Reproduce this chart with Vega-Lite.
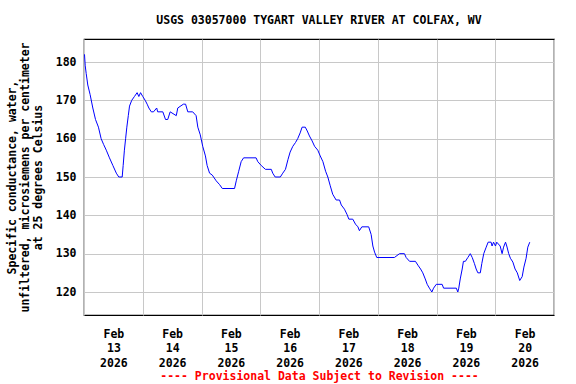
{
  "$schema": "https://vega.github.io/schema/vega-lite/v6.json",
  "width": 470,
  "height": 276,
  "autosize": {"type": "none"},
  "padding": {"left": 84, "top": 39, "right": 22, "bottom": 69},
  "background": "white",
  "config": {"view": {"stroke": "black", "strokeWidth": 1.2}, "font": "DejaVu Sans Mono"},
  "title": {"text": "USGS 03057000 TYGART VALLEY RIVER AT COLFAX, WV", "font": "DejaVu Sans Mono", "fontSize": 11.5, "fontWeight": "bold", "color": "black", "anchor": "middle", "baseline": "alphabetic", "offset": 4},
  "data": {"values": [
    {"time": "2026-02-13T00:12", "value": 182},
    {"time": "2026-02-13T00:30", "value": 179},
    {"time": "2026-02-13T00:54", "value": 177},
    {"time": "2026-02-13T01:33", "value": 174},
    {"time": "2026-02-13T02:30", "value": 171.5},
    {"time": "2026-02-13T03:36", "value": 168},
    {"time": "2026-02-13T04:42", "value": 165},
    {"time": "2026-02-13T05:54", "value": 163},
    {"time": "2026-02-13T07:00", "value": 160},
    {"time": "2026-02-13T08:00", "value": 158.5},
    {"time": "2026-02-13T09:06", "value": 157},
    {"time": "2026-02-13T10:24", "value": 155},
    {"time": "2026-02-13T11:48", "value": 153},
    {"time": "2026-02-13T13:12", "value": 151},
    {"time": "2026-02-13T14:12", "value": 150},
    {"time": "2026-02-13T15:36", "value": 150},
    {"time": "2026-02-13T16:00", "value": 153},
    {"time": "2026-02-13T16:30", "value": 157},
    {"time": "2026-02-13T17:00", "value": 160},
    {"time": "2026-02-13T17:30", "value": 163},
    {"time": "2026-02-13T18:06", "value": 166},
    {"time": "2026-02-13T18:36", "value": 168.5},
    {"time": "2026-02-13T19:30", "value": 170},
    {"time": "2026-02-13T20:36", "value": 171},
    {"time": "2026-02-13T21:42", "value": 172},
    {"time": "2026-02-13T22:24", "value": 171},
    {"time": "2026-02-13T23:06", "value": 172},
    {"time": "2026-02-14T00:00", "value": 171},
    {"time": "2026-02-14T01:00", "value": 170},
    {"time": "2026-02-14T01:48", "value": 169},
    {"time": "2026-02-14T02:30", "value": 168},
    {"time": "2026-02-14T03:30", "value": 167},
    {"time": "2026-02-14T04:24", "value": 167},
    {"time": "2026-02-14T05:42", "value": 168},
    {"time": "2026-02-14T06:06", "value": 167},
    {"time": "2026-02-14T08:12", "value": 167},
    {"time": "2026-02-14T09:18", "value": 165},
    {"time": "2026-02-14T10:12", "value": 165},
    {"time": "2026-02-14T11:12", "value": 167},
    {"time": "2026-02-14T13:42", "value": 166},
    {"time": "2026-02-14T14:18", "value": 168},
    {"time": "2026-02-14T16:36", "value": 169},
    {"time": "2026-02-14T17:30", "value": 169},
    {"time": "2026-02-14T18:24", "value": 167},
    {"time": "2026-02-14T20:24", "value": 167},
    {"time": "2026-02-14T21:48", "value": 166},
    {"time": "2026-02-14T22:30", "value": 163},
    {"time": "2026-02-14T23:30", "value": 161},
    {"time": "2026-02-15T00:30", "value": 158},
    {"time": "2026-02-15T01:36", "value": 155.5},
    {"time": "2026-02-15T02:18", "value": 153},
    {"time": "2026-02-15T03:18", "value": 151},
    {"time": "2026-02-15T04:24", "value": 150.5},
    {"time": "2026-02-15T06:00", "value": 149},
    {"time": "2026-02-15T07:24", "value": 148},
    {"time": "2026-02-15T08:30", "value": 147},
    {"time": "2026-02-15T13:30", "value": 147},
    {"time": "2026-02-15T14:12", "value": 149},
    {"time": "2026-02-15T15:12", "value": 151.5},
    {"time": "2026-02-15T16:12", "value": 154},
    {"time": "2026-02-15T17:12", "value": 155},
    {"time": "2026-02-15T22:18", "value": 155},
    {"time": "2026-02-15T23:00", "value": 154},
    {"time": "2026-02-16T00:24", "value": 153},
    {"time": "2026-02-16T02:06", "value": 152},
    {"time": "2026-02-16T04:30", "value": 152},
    {"time": "2026-02-16T05:06", "value": 151},
    {"time": "2026-02-16T06:06", "value": 150},
    {"time": "2026-02-16T08:12", "value": 150},
    {"time": "2026-02-16T09:12", "value": 151},
    {"time": "2026-02-16T10:18", "value": 152},
    {"time": "2026-02-16T11:18", "value": 154.5},
    {"time": "2026-02-16T12:12", "value": 156.5},
    {"time": "2026-02-16T13:18", "value": 158},
    {"time": "2026-02-16T14:24", "value": 159},
    {"time": "2026-02-16T15:18", "value": 160},
    {"time": "2026-02-16T16:18", "value": 161.5},
    {"time": "2026-02-16T17:06", "value": 163},
    {"time": "2026-02-16T18:24", "value": 163},
    {"time": "2026-02-16T19:12", "value": 162},
    {"time": "2026-02-16T20:06", "value": 160.7},
    {"time": "2026-02-16T21:12", "value": 159.4},
    {"time": "2026-02-16T22:12", "value": 158},
    {"time": "2026-02-16T23:30", "value": 157},
    {"time": "2026-02-17T00:30", "value": 155.5},
    {"time": "2026-02-17T01:36", "value": 154},
    {"time": "2026-02-17T02:42", "value": 151.5},
    {"time": "2026-02-17T03:36", "value": 150},
    {"time": "2026-02-17T04:36", "value": 147.7},
    {"time": "2026-02-17T05:36", "value": 145.5},
    {"time": "2026-02-17T07:00", "value": 144},
    {"time": "2026-02-17T08:24", "value": 144},
    {"time": "2026-02-17T09:06", "value": 142.7},
    {"time": "2026-02-17T10:24", "value": 141.6},
    {"time": "2026-02-17T11:24", "value": 140.3},
    {"time": "2026-02-17T12:12", "value": 139},
    {"time": "2026-02-17T13:48", "value": 139},
    {"time": "2026-02-17T14:54", "value": 137.7},
    {"time": "2026-02-17T15:54", "value": 137},
    {"time": "2026-02-17T16:30", "value": 136},
    {"time": "2026-02-17T17:30", "value": 137},
    {"time": "2026-02-17T20:18", "value": 137},
    {"time": "2026-02-17T21:18", "value": 135},
    {"time": "2026-02-17T22:00", "value": 132},
    {"time": "2026-02-17T22:42", "value": 130.4},
    {"time": "2026-02-17T23:36", "value": 129},
    {"time": "2026-02-18T06:48", "value": 129},
    {"time": "2026-02-18T08:54", "value": 130},
    {"time": "2026-02-18T10:54", "value": 130},
    {"time": "2026-02-18T11:36", "value": 129},
    {"time": "2026-02-18T13:00", "value": 128},
    {"time": "2026-02-18T15:24", "value": 128},
    {"time": "2026-02-18T16:24", "value": 127},
    {"time": "2026-02-18T17:30", "value": 126},
    {"time": "2026-02-18T18:24", "value": 125},
    {"time": "2026-02-18T19:24", "value": 123.4},
    {"time": "2026-02-18T20:12", "value": 122},
    {"time": "2026-02-18T21:06", "value": 121},
    {"time": "2026-02-18T22:06", "value": 120},
    {"time": "2026-02-18T22:48", "value": 121},
    {"time": "2026-02-18T23:54", "value": 122},
    {"time": "2026-02-19T02:18", "value": 122},
    {"time": "2026-02-19T02:54", "value": 121},
    {"time": "2026-02-19T08:06", "value": 121},
    {"time": "2026-02-19T08:42", "value": 120},
    {"time": "2026-02-19T09:06", "value": 121},
    {"time": "2026-02-19T09:42", "value": 123.4},
    {"time": "2026-02-19T10:30", "value": 126},
    {"time": "2026-02-19T11:00", "value": 128},
    {"time": "2026-02-19T11:48", "value": 128},
    {"time": "2026-02-19T12:48", "value": 129},
    {"time": "2026-02-19T13:48", "value": 130},
    {"time": "2026-02-19T14:36", "value": 129},
    {"time": "2026-02-19T15:30", "value": 127.4},
    {"time": "2026-02-19T16:12", "value": 126},
    {"time": "2026-02-19T16:54", "value": 125},
    {"time": "2026-02-19T17:54", "value": 125},
    {"time": "2026-02-19T18:30", "value": 127.4},
    {"time": "2026-02-19T19:18", "value": 130},
    {"time": "2026-02-19T20:18", "value": 131.7},
    {"time": "2026-02-19T21:06", "value": 133},
    {"time": "2026-02-19T22:18", "value": 133},
    {"time": "2026-02-19T22:42", "value": 132},
    {"time": "2026-02-19T23:18", "value": 133},
    {"time": "2026-02-20T00:06", "value": 132},
    {"time": "2026-02-20T00:36", "value": 133},
    {"time": "2026-02-20T02:00", "value": 132},
    {"time": "2026-02-20T02:48", "value": 130},
    {"time": "2026-02-20T03:24", "value": 131.7},
    {"time": "2026-02-20T04:12", "value": 133},
    {"time": "2026-02-20T04:42", "value": 132},
    {"time": "2026-02-20T05:30", "value": 130},
    {"time": "2026-02-20T06:12", "value": 128.8},
    {"time": "2026-02-20T07:12", "value": 127.8},
    {"time": "2026-02-20T08:06", "value": 126},
    {"time": "2026-02-20T09:00", "value": 125},
    {"time": "2026-02-20T10:00", "value": 123},
    {"time": "2026-02-20T11:00", "value": 124},
    {"time": "2026-02-20T11:42", "value": 126.5},
    {"time": "2026-02-20T12:36", "value": 128.8},
    {"time": "2026-02-20T13:18", "value": 131.7},
    {"time": "2026-02-20T14:06", "value": 133}
  ]},
  "mark": {"type": "line", "color": "#0000ff", "strokeWidth": 1, "clip": true},
  "encoding": {
    "x": {
      "field": "time",
      "type": "temporal",
      "scale": {"domain": [{"year": 2026, "month": 2, "date": 13}, {"year": 2026, "month": 2, "date": 21}]},
      "axis": {
        "values": [
          {"year": 2026, "month": 2, "date": 13, "hours": 0},
          {"year": 2026, "month": 2, "date": 13, "hours": 12},
          {"year": 2026, "month": 2, "date": 14, "hours": 0},
          {"year": 2026, "month": 2, "date": 14, "hours": 12},
          {"year": 2026, "month": 2, "date": 15, "hours": 0},
          {"year": 2026, "month": 2, "date": 15, "hours": 12},
          {"year": 2026, "month": 2, "date": 16, "hours": 0},
          {"year": 2026, "month": 2, "date": 16, "hours": 12},
          {"year": 2026, "month": 2, "date": 17, "hours": 0},
          {"year": 2026, "month": 2, "date": 17, "hours": 12},
          {"year": 2026, "month": 2, "date": 18, "hours": 0},
          {"year": 2026, "month": 2, "date": 18, "hours": 12},
          {"year": 2026, "month": 2, "date": 19, "hours": 0},
          {"year": 2026, "month": 2, "date": 19, "hours": 12},
          {"year": 2026, "month": 2, "date": 20, "hours": 0},
          {"year": 2026, "month": 2, "date": 20, "hours": 12},
          {"year": 2026, "month": 2, "date": 21, "hours": 0}
        ],
        "grid": true,
        "gridColor": "#c8c8c8",
        "gridWidth": 1,
        "gridOpacity": {"condition": {"test": "hours(datum.value) == 12", "value": 0}, "value": 1},
        "ticks": false,
        "domain": false,
        "labelExpr": "hours(datum.value) == 12 ? [timeFormat(datum.value, '%b'), timeFormat(datum.value, '%d'), timeFormat(datum.value, '%Y')] : ''",
        "labelFont": "DejaVu Sans Mono",
        "labelFontWeight": "bold",
        "labelFontSize": 11.5,
        "labelColor": "black",
        "labelLineHeight": 14.5,
        "labelPadding": 13,
        "labelBaseline": "top",
        "labelAlign": "center",
        "labelFlush": false,
        "labelOverlap": false,
        "title": "---- Provisional Data Subject to Revision ----",
        "titleColor": "#ff0000",
        "titleFont": "DejaVu Sans Mono",
        "titleFontWeight": "bold",
        "titleFontSize": 11.5,
        "titlePadding": 2
      }
    },
    "y": {
      "field": "value",
      "type": "quantitative",
      "scale": {"domain": [114, 186], "nice": false, "zero": false},
      "axis": {
        "values": [120, 130, 140, 150, 160, 170, 180],
        "grid": true,
        "gridColor": "#c8c8c8",
        "gridWidth": 1,
        "ticks": false,
        "domain": false,
        "labelFont": "DejaVu Sans Mono",
        "labelFontWeight": "bold",
        "labelFontSize": 11.5,
        "labelColor": "black",
        "labelPadding": 8,
        "title": ["Specific conductance, water,", "unfiltered, microsiemens per centimeter", "at 25 degrees Celsius"],
        "titleFont": "DejaVu Sans Mono",
        "titleFontWeight": "bold",
        "titleFontSize": 11.5,
        "titleColor": "black",
        "titleLineHeight": 13,
        "titlePadding": 12
      }
    }
  }
}
